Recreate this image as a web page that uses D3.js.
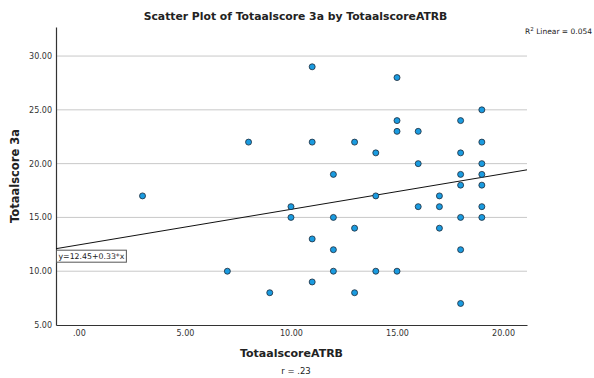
<!DOCTYPE html>
<html>
<head>
<meta charset="utf-8">
<script src="https://cdn.jsdelivr.net/npm/d3@7"></script>
<style>
  body { margin: 0; background: #fff; }
  text { font-family: "DejaVu Sans", sans-serif; fill: #222; }
</style>
</head>
<body>
<div id="chart"></div>
<script>
// Totaalscore 3a (y) against TotaalscoreATRB (x)
const atrb = [11, 15, 19, 15, 18, 15, 16, 8, 11, 13, 19, 14, 18, 16, 19, 12, 18, 19, 18, 19,
              14, 17, 10, 16, 17, 19, 10, 12, 18, 19, 13, 17, 11, 12, 18, 12, 14, 15, 11, 9,
              13, 18, 3, 7];
const score3a = [29, 28, 25, 24, 24, 23, 23, 22, 22, 22, 22, 21, 21, 20, 20, 19, 19, 19, 18, 18,
                 17, 17, 16, 16, 16, 16, 15, 15, 15, 15, 14, 14, 13, 12, 12, 10, 10, 10, 9, 8,
                 8, 7, 17, 10];
const xTicks = [0, 5, 10, 15, 20];
const yTicks = [5, 10, 15, 20, 25, 30];
const intercept = 12.45;
const slope = 0.33;
const rSquared = 0.054;
const rValue = '.23';

const width = 594, height = 378;
const margin = { top: 27, right: 67, bottom: 53, left: 56 };

const svg = d3.select('#chart').append('svg')
    .attr('width', width)
    .attr('height', height);

const x = d3.scaleLinear()
    .domain([-1.08, 21.13])
    .range([margin.left, width - margin.right]);

const y = d3.scaleLinear()
    .domain([5, 32.7])
    .range([height - margin.bottom, margin.top]);

const fmt = v => v === 0 ? '.00' : d3.format('.2f')(v);

// horizontal grid lines
svg.append('g')
    .selectAll('line')
    .data(yTicks.filter(d => d > 5))
    .join('line')
    .attr('x1', margin.left)
    .attr('x2', width - margin.right)
    .attr('y1', d => y(d))
    .attr('y2', d => y(d))
    .attr('stroke', '#c8c8c8')
    .attr('stroke-width', 1);

// axes
const yAxis = svg.append('g')
    .attr('transform', `translate(${margin.left},0)`)
    .call(d3.axisLeft(y).tickValues(yTicks).tickFormat(fmt).tickSize(0).tickPadding(4));
const xAxis = svg.append('g')
    .attr('transform', `translate(0,${height - margin.bottom})`)
    .call(d3.axisBottom(x).tickValues(xTicks).tickFormat(fmt).tickSize(0).tickPadding(5));

[yAxis, xAxis].forEach(a => {
    a.select('.domain').attr('stroke', '#333').attr('stroke-width', 1.2);
    a.selectAll('text').style('font-size', '8px').style('fill', '#333')
        .style('font-family', '"DejaVu Sans", sans-serif');
});

// fit line
const xd = x.domain();
svg.append('clipPath').attr('id', 'plotclip')
    .append('rect')
    .attr('x', margin.left).attr('y', margin.top)
    .attr('width', width - margin.left - margin.right)
    .attr('height', height - margin.top - margin.bottom);

svg.append('line')
    .attr('clip-path', 'url(#plotclip)')
    .attr('x1', x(xd[0])).attr('y1', y(intercept + slope * xd[0]))
    .attr('x2', x(xd[1])).attr('y2', y(intercept + slope * xd[1]))
    .attr('stroke', '#111')
    .attr('stroke-width', 1);

// points
svg.append('g')
    .selectAll('circle')
    .data(atrb.map((v, i) => [v, score3a[i]]))
    .join('circle')
    .attr('cx', d => x(d[0]))
    .attr('cy', d => y(d[1]))
    .attr('r', 3)
    .attr('fill', '#1a9be0')
    .attr('stroke', '#1c2a38')
    .attr('stroke-width', 0.8);

// equation label, box sized to the text
const eq = svg.append('g')
    .attr('transform', `translate(${margin.left},${y(intercept + slope * xd[0]) + 1})`);
const eqBox = eq.append('rect')
    .attr('x', 0.5).attr('y', 0.5)
    .attr('height', 12)
    .attr('fill', '#fff')
    .attr('stroke', '#555')
    .attr('stroke-width', 1);
const eqText = eq.append('text')
    .attr('x', 2.5).attr('y', 9.5)
    .style('font-size', '7.8px')
    .text(`y=${intercept}+${slope}*x`);
eqBox.attr('width', eqText.node().getComputedTextLength() + 4);

// titles
svg.append('text')
    .attr('x', 295.5).attr('y', 20)
    .attr('text-anchor', 'middle')
    .style('font-size', '10.8px')
    .style('font-weight', 'bold')
    .text('Scatter Plot of Totaalscore 3a by TotaalscoreATRB');

svg.append('text')
    .attr('x', (margin.left + width - margin.right) / 2).attr('y', 357)
    .attr('text-anchor', 'middle')
    .style('font-size', '11px')
    .style('font-weight', 'bold')
    .text('TotaalscoreATRB');

svg.append('text')
    .attr('transform', `translate(19,${(margin.top + height - margin.bottom) / 2}) rotate(-90)`)
    .attr('text-anchor', 'middle')
    .style('font-size', '11.5px')
    .style('font-weight', 'bold')
    .text('Totaalscore 3a');

svg.append('text')
    .attr('x', 296).attr('y', 374)
    .attr('text-anchor', 'middle')
    .style('font-size', '8.5px')
    .text(`r = ${rValue}`);

const r2 = svg.append('text')
    .attr('x', 592).attr('y', 34)
    .attr('text-anchor', 'end')
    .style('font-size', '7.5px');
r2.append('tspan').text('R');
r2.append('tspan').attr('dy', -3).style('font-size', '5.5px').text('2');
r2.append('tspan').attr('dy', 3).text(` Linear = ${rSquared}`);
</script>
</body>
</html>
